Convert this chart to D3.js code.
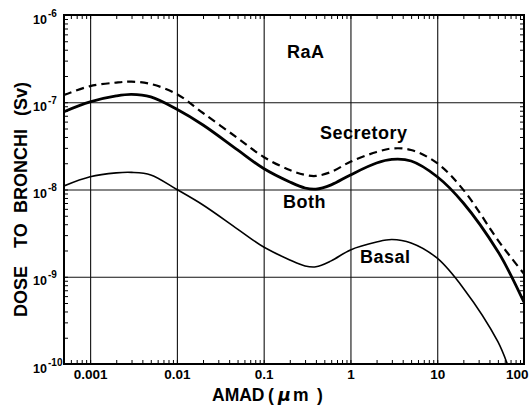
<!DOCTYPE html>
<html>
<head>
<meta charset="utf-8">
<script src="https://cdn.jsdelivr.net/npm/d3@7"></script>
<style>
  html, body { margin: 0; padding: 0; background: #fff; }
  svg { display: block; }
  text { font-family: "Liberation Sans", Arial, Helvetica, sans-serif; font-weight: bold; fill: #000; }
</style>
</head>
<body>
<svg id="chart" width="532" height="406"></svg>
<script>
// ---- data (AMAD in micrometres, dose in Sv) ----
const amad = [0.0005, 0.001, 0.002, 0.003, 0.005, 0.01, 0.02, 0.05, 0.1, 0.2, 0.3, 0.4, 0.6, 1, 2, 3, 5, 10, 20, 50, 70, 100];
const secretory = [1.21e-7, 1.53e-7, 1.68e-7, 1.72e-7, 1.62e-7, 1.24e-7, 7.53e-8, 3.89e-8, 2.36e-8, 1.67e-8, 1.47e-8, 1.43e-8, 1.59e-8, 2.08e-8, 2.69e-8, 2.95e-8, 2.84e-8, 2.0e-8, 9.9e-9, 2.63e-9, 1.69e-9, 1.08e-9];
const both = [7.8e-8, 1.01e-7, 1.18e-7, 1.23e-7, 1.15e-7, 8.3e-8, 5.48e-8, 2.84e-8, 1.74e-8, 1.22e-8, 1.04e-8, 1.01e-8, 1.13e-8, 1.47e-8, 2.01e-8, 2.21e-8, 2.12e-8, 1.40e-8, 7.0e-9, 1.95e-9, 1.06e-9, 5.1e-10];
const basal = [1.1e-8, 1.4e-8, 1.55e-8, 1.57e-8, 1.47e-8, 1.0e-8, 6.64e-9, 3.52e-9, 2.19e-9, 1.56e-9, 1.33e-9, 1.3e-9, 1.52e-9, 2.03e-9, 2.5e-9, 2.67e-9, 2.44e-9, 1.63e-9, 7.4e-10, 1.8e-10, 8.0e-11, 3.3e-11];

const xTickValues = [0.001, 0.01, 0.1, 1, 10, 100];
const xTickLabels = ["0.001", "0.01", "0.1", "1", "10", "100"];
const yTickValues = [1e-10, 1e-9, 1e-8, 1e-7, 1e-6];
const yTickExponents = ["-10", "-9", "-8", "-7", "-6"];
const xDomain = [0.0005, 100];
const yDomain = [1e-10, 1e-6];

// ---- layout ----
const L = 64, R = 524, T = 15, B = 364;
const svg = d3.select("#chart");
const x = d3.scaleLog().domain(xDomain).range([L, R]);
const y = d3.scaleLog().domain(yDomain).range([B, T]);

// minor tick values
function minors(lo, hi) {
  const out = [];
  for (let e = Math.floor(Math.log10(lo)); e <= Math.ceil(Math.log10(hi)); e++) {
    for (let m = 1; m <= 9; m++) {
      const v = m * Math.pow(10, e);
      if (v > lo * 1.0001 && v < hi * 0.9999) out.push(v);
    }
  }
  return out;
}
const xMinor = minors(xDomain[0], xDomain[1]);
const yMinor = minors(yDomain[0], yDomain[1]);

// gridlines (major decades)
const gridX = xTickValues.filter(v => v > xDomain[0] && v < xDomain[1]);
const gridY = yTickValues.filter(v => v > yDomain[0] && v < yDomain[1]);

svg.append("g").attr("transform", `translate(0,${B})`)
  .call(d3.axisBottom(x).tickValues(gridX).tickSize(-(B - T)).tickFormat(""))
  .call(g => g.select(".domain").remove())
  .call(g => g.selectAll("line").attr("stroke", "#111").attr("stroke-width", 1.1));
svg.append("g").attr("transform", `translate(${L},0)`)
  .call(d3.axisLeft(y).tickValues(gridY).tickSize(-(R - L)).tickFormat(""))
  .call(g => g.select(".domain").remove())
  .call(g => g.selectAll("line").attr("stroke", "#111").attr("stroke-width", 1.1));

// minor ticks on all four sides (inward)
const tickLen = 4;
function styleTicks(g) {
  g.select(".domain").remove();
  g.selectAll("line").attr("stroke", "#000").attr("stroke-width", 1);
}
svg.append("g").attr("transform", `translate(0,${B})`)
  .call(d3.axisBottom(x).tickValues(xMinor).tickSize(-tickLen).tickFormat("")).call(styleTicks);
svg.append("g").attr("transform", `translate(0,${T})`)
  .call(d3.axisTop(x).tickValues(xMinor).tickSize(-tickLen).tickFormat("")).call(styleTicks);
svg.append("g").attr("transform", `translate(${L},0)`)
  .call(d3.axisLeft(y).tickValues(yMinor).tickSize(-tickLen).tickFormat("")).call(styleTicks);
svg.append("g").attr("transform", `translate(${R},0)`)
  .call(d3.axisRight(y).tickValues(yMinor).tickSize(-tickLen).tickFormat("")).call(styleTicks);

// x tick labels
const xAx = svg.append("g").attr("transform", `translate(0,${B})`)
  .call(d3.axisBottom(x).tickValues(xTickValues).tickSize(0).tickPadding(5)
    .tickFormat((d, i) => xTickLabels[i]));
xAx.select(".domain").remove();
xAx.selectAll("text")
  .style("font-family", '"Liberation Sans", Arial, sans-serif')
  .style("font-weight", "bold").style("font-size", "13.5px").attr("fill", "#000");
xAx.selectAll(".tick").filter(d => d === 100).select("text")
  .attr("text-anchor", "end").attr("dx", 4);

// y tick labels 10^n
const yAx = svg.append("g").attr("transform", `translate(${L},0)`)
  .call(d3.axisLeft(y).tickValues(yTickValues).tickSize(0).tickFormat(""));
yAx.select(".domain").remove();
yAx.selectAll(".tick").each(function (d, i) {
  const g = d3.select(this);
  g.append("text").attr("x", -17).attr("y", 8).attr("text-anchor", "end")
    .style("font-size", "12.5px").text("10");
  g.append("text").attr("x", -16).attr("y", 1).attr("text-anchor", "start")
    .style("font-size", "10px").text(yTickExponents[i]);
});

// curves
svg.append("clipPath").attr("id", "clip")
  .append("rect").attr("x", L).attr("y", T).attr("width", R - L).attr("height", B - T);

const line = d3.line()
  .x(d => x(d[0])).y(d => y(d[1]))
  .curve(d3.curveCatmullRom.alpha(0.5));

const plot = svg.append("g").attr("clip-path", "url(#clip)");
plot.append("path").datum(amad.map((a, i) => [a, basal[i]]))
  .attr("d", line).attr("fill", "none").attr("stroke", "#000").attr("stroke-width", 1.6);
plot.append("path").datum(amad.map((a, i) => [a, both[i]]))
  .attr("d", line).attr("fill", "none").attr("stroke", "#000").attr("stroke-width", 2.8);
plot.append("path").datum(amad.map((a, i) => [a, secretory[i]]))
  .attr("d", line).attr("fill", "none").attr("stroke", "#000").attr("stroke-width", 2.2)
  .attr("stroke-dasharray", "8,5");

// frame
svg.append("rect").attr("x", L).attr("y", T).attr("width", R - L).attr("height", B - T)
  .attr("fill", "none").attr("stroke", "#000").attr("stroke-width", 2);

// annotations
const ann = [
  { t: "RaA", x: 287, y: 58 },
  { t: "Secretory", x: 320, y: 139 },
  { t: "Both", x: 283, y: 208 },
  { t: "Basal", x: 360, y: 263 }
];
svg.selectAll("text.ann").data(ann).enter().append("text").attr("class", "ann")
  .attr("x", d => d.x).attr("y", d => d.y)
  .style("font-size", "18px").style("letter-spacing", "0.5px")
  .text(d => d.t);

// axis titles
const xt = svg.append("text").attr("y", 401).style("font-size", "17.5px");
xt.append("tspan").attr("x", 212).text("AMAD");
xt.append("tspan").attr("x", 268).text("(");
xt.append("tspan").attr("x", 278).style("font-style", "italic")
  .style("font-family", '"DejaVu Sans", sans-serif').text("\u03bc");
xt.append("tspan").attr("x", 293).text("m");
xt.append("tspan").attr("x", 317).text(")");

const yt = svg.append("text").attr("transform", "translate(27,317) rotate(-90)")
  .style("font-size", "18px");
yt.append("tspan").attr("x", 0).text("DOSE");
yt.append("tspan").attr("x", 69).text("TO");
yt.append("tspan").attr("x", 104).text("BRONCHI");
yt.append("tspan").attr("x", 201).text("(Sv)");
</script>
</body>
</html>
